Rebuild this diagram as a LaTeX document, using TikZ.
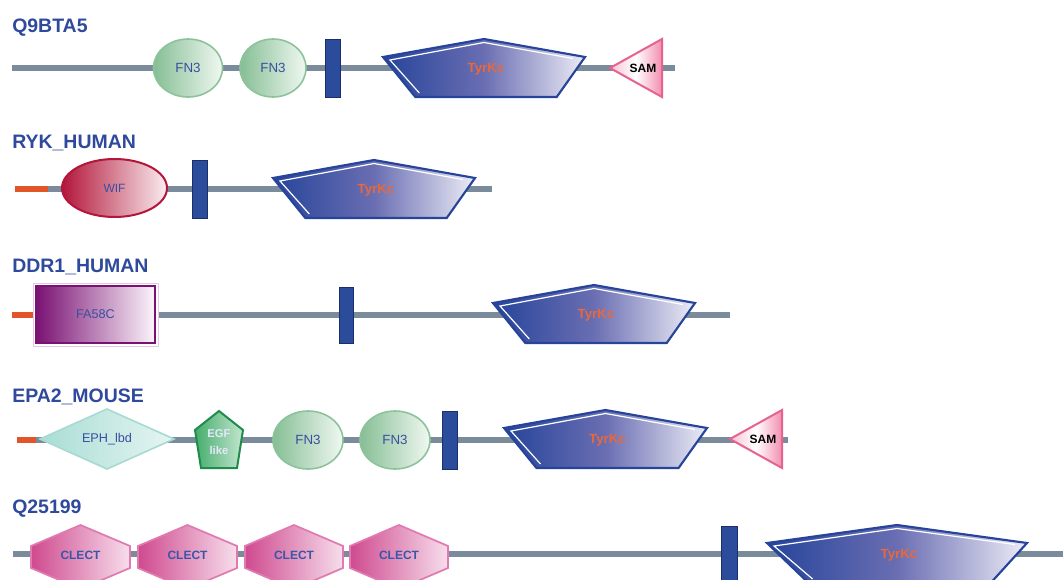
\documentclass[tikz,border=0pt]{standalone}
\usepackage{fontspec}
\setmainfont{Liberation Sans}
\usetikzlibrary{shapes.geometric}
\definecolor{bbgray}{HTML}{7A8B9B}
\definecolor{ntred}{HTML}{E2542A}
\definecolor{titleblue}{HTML}{2F4A9C}
\definecolor{domblue}{HTML}{3A4EA0}
\definecolor{fnline}{HTML}{8CC39A}
\definecolor{fnleft}{HTML}{86BE95}
\definecolor{fnright}{HTML}{F0F8F1}
\definecolor{tmblue}{HTML}{2B4C9B}
\definecolor{tmdark}{HTML}{1B2D6A}
\definecolor{tyrblue}{HTML}{26449A}
\definecolor{tyrmid}{HTML}{6A6EB2}
\definecolor{tyrright}{HTML}{ECECF6}
\definecolor{tyrtxt}{HTML}{E8683C}
\definecolor{samline}{HTML}{E6628F}
\definecolor{samleft}{HTML}{F6C4D3}
\definecolor{samright}{HTML}{F28DB0}
\definecolor{wifred}{HTML}{B3163A}
\definecolor{wifright}{HTML}{FAEDF0}
\definecolor{faline}{HTML}{7A1273}
\definecolor{faright}{HTML}{FCF4FB}
\definecolor{fahalo}{HTML}{E3C9E1}
\definecolor{ephline}{HTML}{A6DAD2}
\definecolor{ephleft}{HTML}{A9DDD5}
\definecolor{ephright}{HTML}{E6F5F2}
\definecolor{egfline}{HTML}{1F8C4C}
\definecolor{egfleft}{HTML}{45AD6C}
\definecolor{egfright}{HTML}{C4E6D0}
\definecolor{egftxt}{HTML}{E4E7FA}
\definecolor{clline}{HTML}{E07AB0}
\definecolor{clleft}{HTML}{CF4A8F}
\definecolor{clright}{HTML}{F7DEEC}
\definecolor{cltxt}{HTML}{3A56A8}

\newcommand\tyrk[4]{%
  \path[tyrshape] (#2,#4-11) -- ({#2+#3/2},#4-29) -- ({#2+#3},#4-11) -- ({#2+0.86*#3},#4+29) -- ({#2+0.16*#3},#4+29) -- cycle;
  \draw[tyrbevel] ({#2+0.16*#3+4},#4+25) -- ({#2+7},#4-8) -- ({#2+#3/2},#4-25.5) -- ({#2+#3-12},#4-9.5);
  \node[tyrtext] (#1) at ({#2+#3/2+2},#4+1) {TyrKc};}
\newcommand\samdom[3]{%
  \path[samshape] (#2,#3) -- (#2+52,#3-29) -- (#2+52,#3+29) -- cycle;
  \node[samtext] (#1) at (#2+33,#3) {SAM};}
\newcommand\clect[4]{%
  \path[clectshape] (#2,#4-8) -- ({#2+#3/2},#4-29) -- ({#2+#3},#4-8) -- ({#2+#3},#4+14) -- ({#2+#3/2},#4+35) -- (#2,#4+14) -- cycle;
  \node[clecttext] (#1) at ({#2+#3/2},#4+1) {CLECT};}

\begin{document}
\begin{tikzpicture}[x=0.75pt,y=-0.75pt,
  backbone/.style={draw=bbgray, line width=4.5pt},
  nterm/.style={draw=ntred, line width=4.5pt},
  title/.style={anchor=base west, inner sep=0, font=\bfseries\fontsize{14.6}{16}\selectfont, text=titleblue},
  fnthree/.style={ellipse, draw=fnline, line width=1.2pt, left color=fnleft, right color=fnright, minimum height=43.5pt, inner sep=0, font=\fontsize{10}{11}\selectfont, text=domblue},
  tmbar/.style={rectangle, fill=tmblue, draw=tmdark, line width=0.6pt, minimum width=11.25pt, minimum height=43.5pt, inner sep=0},
  tyrshape/.style={draw=tyrblue, line width=1.6pt, line join=miter, left color=tyrblue, right color=tyrright, middle color=tyrmid},
  tyrbevel/.style={draw=white, line width=0.9pt},
  tyrtext/.style={inner sep=0, font=\bfseries\fontsize{10}{12}\selectfont, text=tyrtxt},
  samshape/.style={draw=samline, line width=1.5pt, left color=samleft, right color=samright, middle color=white},
  samtext/.style={inner sep=0, font=\bfseries\fontsize{9}{10}\selectfont, text=black},
  wifstyle/.style={ellipse, draw=wifred, line width=1.5pt, left color=wifred, right color=wifright, minimum width=78.75pt, minimum height=43.5pt, inner sep=0, font=\fontsize{9}{10}\selectfont, text=domblue},
  fastyle/.style={rectangle, draw=faline, line width=1.5pt, left color=faline, right color=faright, minimum width=89pt, minimum height=42.5pt, inner sep=0, font=\fontsize{9.5}{10}\selectfont, text=domblue},
  ephshape/.style={draw=ephline, line width=1.2pt, left color=ephleft, right color=ephright},
  ephtext/.style={inner sep=0, font=\fontsize{9.5}{10}\selectfont, text=domblue},
  egfshape/.style={draw=egfline, line width=1.5pt, line join=miter, left color=egfleft, right color=egfright},
  egftext/.style={inner sep=0, align=center, font=\bfseries\fontsize{8.5}{13}\selectfont, text=egftxt},
  clectshape/.style={draw=clline, line width=1.3pt, left color=clleft, right color=clright},
  clecttext/.style={inner sep=0, font=\bfseries\fontsize{9}{10}\selectfont, text=cltxt}
]
\useasboundingbox (0,0) rectangle (1063,579);
\clip (0,0) rectangle (1063,579);
\fill[white] (0,0) rectangle (1063,579);

% ---------- Row 1: Q9BTA5 ----------
\node[title] (t1) at (12,32) {Q9BTA5};
\coordinate (r1a) at (12,68);
\coordinate (r1b) at (675,68);
\draw[backbone] (r1a) -- (r1b);
\node[fnthree, minimum width=51.75pt] (r1fn1) at (188,68) {FN3};
\node[fnthree, minimum width=49.5pt] (r1fn2) at (273,68) {FN3};
\node[tmbar] (r1tm) at (332.5,68) {};
\tyrk{r1tyr}{383}{202}{68}
\samdom{r1sam}{610}{68}

% ---------- Row 2: RYK_HUMAN ----------
\node[title] (t2) at (12,148) {RYK\_HUMAN};
\coordinate (r2n) at (15,189);
\coordinate (r2a) at (48,189);
\coordinate (r2b) at (492,189);
\draw[backbone] (r2a) -- (r2b);
\draw[nterm] (r2n) -- (r2a);
\node[wifstyle] (r2wif) at (114.5,188) {WIF};
\node[tmbar] (r2tm) at (199.5,189) {};
\tyrk{r2tyr}{273}{202}{189}

% ---------- Row 3: DDR1_HUMAN ----------
\node[title] (t3) at (12,272) {DDR1\_HUMAN};
\coordinate (r3n) at (12,315);
\coordinate (r3a) at (34,315);
\coordinate (r3b) at (730,315);
\draw[backbone] (r3a) -- (r3b);
\draw[nterm] (r3n) -- (r3a);
\draw[draw=fahalo, line width=0.6pt, fill=white] (33,283) rectangle (158,346);
\node[fastyle] (r3fa) at (95.5,314.5) {FA58C};
\node[tmbar, minimum width=10.5pt, minimum height=42pt] (r3tm) at (346,315) {};
\tyrk{r3tyr}{493}{202}{314}

% ---------- Row 4: EPA2_MOUSE ----------
\node[title] (t4) at (12,402) {EPA2\_MOUSE};
\coordinate (r4n) at (17,440);
\coordinate (r4a) at (36,440);
\coordinate (r4b) at (788,440);
\draw[backbone] (r4a) -- (r4b);
\draw[nterm] (r4n) -- (r4a);
\path[ephshape] (40,439) -- (107,409) -- (174,439) -- (107,469) -- cycle;
\node[ephtext] (r4eph) at (107,439) {EPH\_lbd};
\path[egfshape] (219,411) -- (243,430) -- (237,468) -- (201,468) -- (195,430) -- cycle;
\node[egftext] (r4egf) at (219,442) {EGF\\like};
\node[fnthree, minimum width=52.5pt] (r4fn1) at (308,440) {FN3};
\node[fnthree, minimum width=52.5pt] (r4fn2) at (395,440) {FN3};
\node[tmbar] (r4tm) at (449.5,440) {};
\tyrk{r4tyr}{504}{203}{439}
\samdom{r4sam}{730}{439}

% ---------- Row 5: Q25199 ----------
\node[title] (t5) at (12,513) {Q25199};
\coordinate (r5a) at (13,554);
\coordinate (r5b) at (1063,554);
\draw[backbone] (r5a) -- (r5b);
\clect{r5c1}{31}{99}{554}
\clect{r5c2}{138}{99}{554}
\clect{r5c3}{245}{98}{554}
\clect{r5c4}{350}{98}{554}
\node[tmbar, minimum width=12pt, minimum height=45pt] (r5tm) at (729,556) {};
\tyrk{r5tyr}{767}{260}{554}
\end{tikzpicture}
\end{document}
